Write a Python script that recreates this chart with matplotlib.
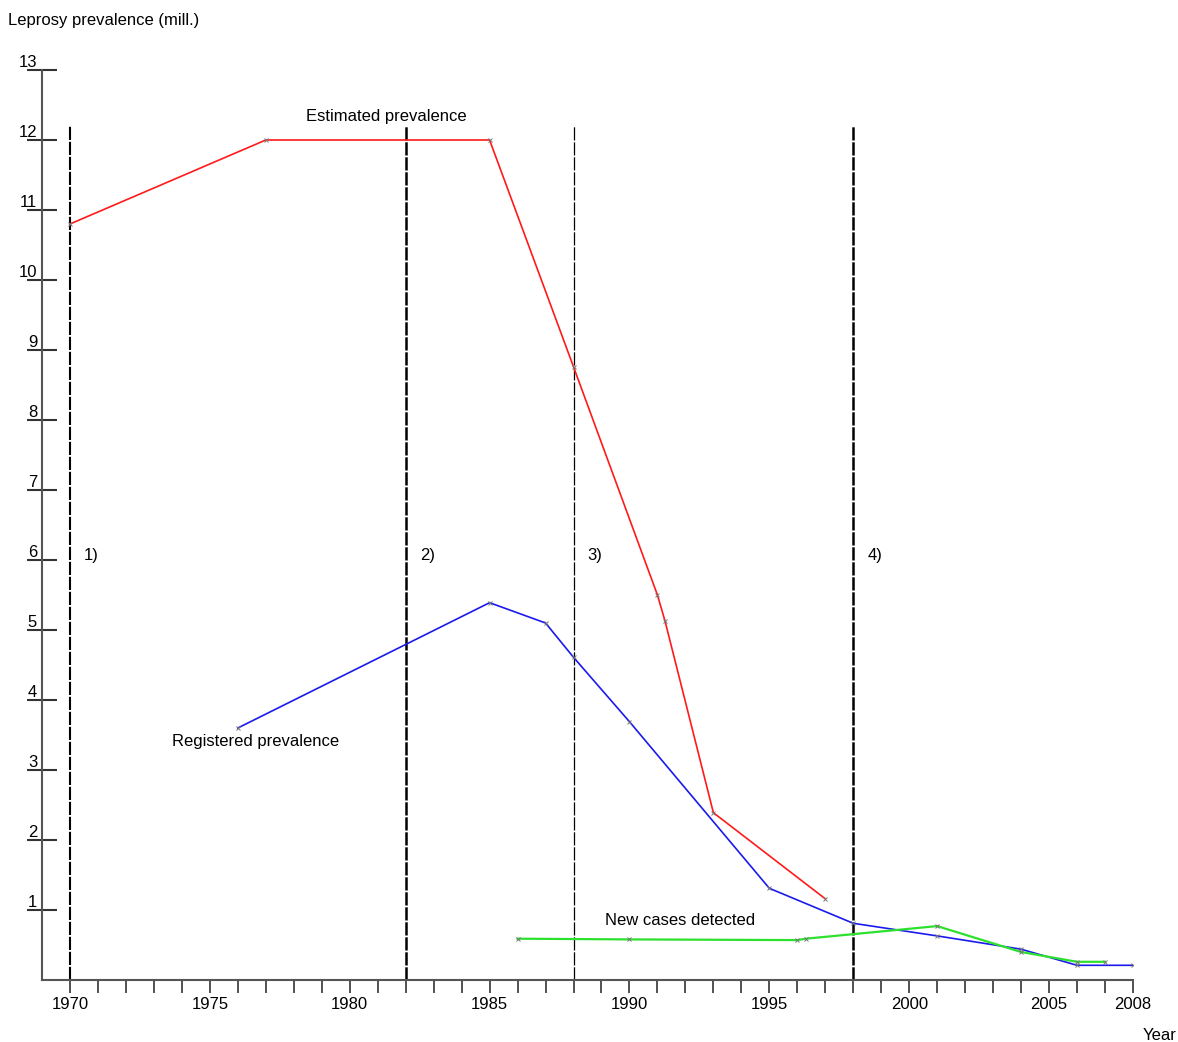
import matplotlib
matplotlib.use("Agg")
import matplotlib.pyplot as plt
from matplotlib.ticker import FixedLocator

plt.rcParams['font.family'] = ['Liberation Sans', 'DejaVu Sans']
plt.rcParams['lines.scale_dashes'] = False

# ---- data ----
est_years = [1970, 1977, 1985, 1988, 1991, 1991.27, 1993, 1997]
est_vals = [10.8, 12.0, 12.0, 8.76, 5.5, 5.13, 2.39, 1.16]

reg_years = [1976, 1985, 1987, 1988, 1990, 1995, 1998, 2001, 2004, 2006, 2008]
reg_vals = [3.6, 5.39, 5.1, 4.61, 3.69, 1.31, 0.81, 0.63, 0.44, 0.21, 0.21]

new_years = [1986, 1990, 1996, 1996.3, 2001, 2004, 2006, 2007]
new_vals = [0.59, 0.58, 0.57, 0.59, 0.77, 0.40, 0.26, 0.26]

period_years = [1970, 1982, 1988, 1998]
period_widths = [1.5, 1.8, 0.9, 1.8]
period_labels = ['1)', '2)', '3)', '4)']

y_ticks = list(range(1, 14))
x_major = [1970, 1975, 1980, 1985, 1990, 1995, 2000, 2005, 2008]
x_minor = list(range(1970, 2009))

FS = 12

W, H = 1178, 1042
fig = plt.figure(figsize=(W / 100, H / 100), dpi=100)
ax = fig.add_axes([42 / W, 62 / H, (1133 - 42) / W, (980 - 70) / H])
ax.set_xlim(1969, 2008)
ax.set_ylim(0, 13)

for s in ['top', 'right']:
    ax.spines[s].set_visible(False)
for s in ['left', 'bottom']:
    ax.spines[s].set_color('#555555')
    ax.spines[s].set_linewidth(1.5)

# vertical period lines
for yr, lw in zip(period_years, period_widths):
    ax.plot([yr, yr], [0, 12.2], color='black', lw=lw, dashes=(9.5, 1.3), zorder=2)

# series
ax.plot(est_years, est_vals, color='#ff1a1a', lw=1.2, zorder=3)
ax.plot(reg_years, reg_vals, color='#1a1aee', lw=1.2, zorder=3)
ax.plot(new_years, new_vals, color='#2ee02e', lw=1.6, zorder=3)
for xs, ys in [(est_years, est_vals), (reg_years, reg_vals), (new_years, new_vals)]:
    ax.plot(xs, ys, ls='none', marker='x', ms=3, mew=0.7, color='#777777', zorder=4)

# ticks
ax.yaxis.set_major_locator(FixedLocator(y_ticks))
ax.set_yticklabels([str(v) for v in y_ticks])
ax.tick_params(axis='y', direction='inout', length=21, width=1.5, color='#333333',
               pad=-7, labelsize=FS)
for lab in ax.get_yticklabels():
    lab.set_verticalalignment('bottom')

ax.xaxis.set_major_locator(FixedLocator(x_major))
ax.xaxis.set_minor_locator(FixedLocator(x_minor))
ax.set_xticklabels([str(v) for v in x_major])
ax.tick_params(axis='x', which='both', direction='out', length=9.5, width=1.2,
               color='#333333', pad=3, labelsize=FS)

# annotations
ax.text(1981.3, 12.33, 'Estimated prevalence', ha='center', va='center', fontsize=FS)
ax.text(1973.65, 3.41, 'Registered prevalence', ha='left', va='center', fontsize=FS)
ax.text(1989.13, 0.857, 'New cases detected', ha='left', va='center', fontsize=FS)
for yr, lab in zip(period_years, period_labels):
    ax.text(yr + 0.5, 6.06, lab, ha='left', va='center', fontsize=FS)

fig.text(8 / W, 1 - 20 / H, 'Leprosy prevalence (mill.)', ha='left', va='center', fontsize=FS)
fig.text(1177 / W, 1 - 1035 / H, 'Year', ha='right', va='center', fontsize=FS)

fig.savefig('out.png', dpi=100)
